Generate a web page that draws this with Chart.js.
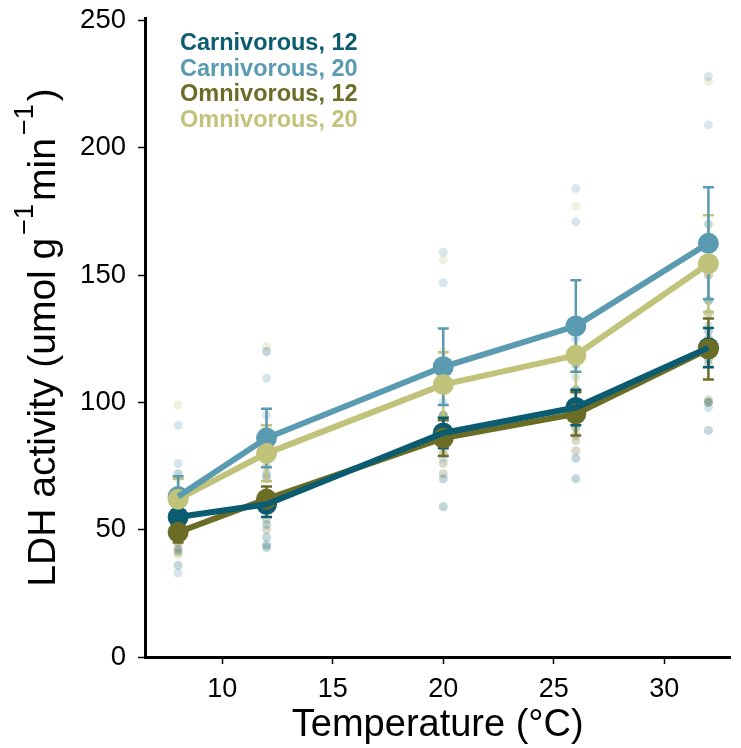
<!DOCTYPE html>
<html>
<head>
<meta charset="utf-8">
<script src="https://cdn.jsdelivr.net/npm/chart.js@4.4.1/dist/chart.umd.min.js"></script>
<style>
  html, body { margin:0; padding:0; background:#fff; }
</style>
</head>
<body>
<canvas id="c" width="741" height="748"></canvas>
<script>
/* ---------- data ---------- */
const temps = [8, 12, 20, 26, 32];
const xTicks = [10, 15, 20, 25, 30];
const yTicks = [0, 50, 100, 150, 200, 250];

const groupNames  = ["Carnivorous, 12", "Carnivorous, 20", "Omnivorous, 12", "Omnivorous, 20"];
const groupColors = ["#0b5c70", "#5b9bb2", "#6b6d27", "#c1c37a"];

const carn12Mean = [55, 60, 88, 98, 121.5];
const carn20Mean = [63, 86, 114, 130, 162.5];
const omn12Mean  = [49, 62, 86, 95.5, 121];
const omn20Mean  = [62, 80, 107, 118.5, 154.5];

const carn12Se = [4, 5, 6, 7, 7.7];
const carn20Se = [8, 11.5, 15, 18, 22];
const omn12Se  = [4, 5, 7, 8.5, 12];
const omn20Se  = [8, 11, 12.7, 14, 19];

// individual fish, one row per temperature
const carn12Raw = [[72,65,60,55,42,36],[120,60,52,47,44,43],[115,105,95,84,70,59],[130,115,105,90,78,70],[155,140,128,117,100,89]];
const carn20Raw = [[91,76,63,55,60,33],[109.5,95,88,80,72,71],[159,147,110,100,90,78],[184,171,125,110,95,95],[228,209,170,140,130,98]];
const omn12Raw  = [[60,55,50,45,43,41],[75,70,65,58,54,50],[105,95,88,80,76,72],[120,105,95,85,81,87],[150,135,125,115,100,101]];
const omn20Raw  = [[99,70,60,55,48,40],[122,90,80,72,60,56],[156,120,105,95,85,80],[177,130,115,100,90,99],[226,170,150,135,125,121]];

const means = [carn12Mean, carn20Mean, omn12Mean, omn20Mean];
const ses   = [carn12Se, carn20Se, omn12Se, omn20Se];
const raws  = [carn12Raw, carn20Raw, omn12Raw, omn20Raw];

/* ---------- helpers ---------- */
function alpha(hex, a){
  const n = parseInt(hex.slice(1), 16);
  return `rgba(${n>>16},${(n>>8)&255},${n&255},${a})`;
}
const FONT = "'Liberation Sans', Arial, Helvetica, sans-serif";

// order: higher = drawn first (underneath)
const pointOrder = [24, 23, 21, 22];   // olive point sits on teal
const lineOrder  = [1, 2, 3, 4];       // carnivorous lines over omnivorous

const datasets = [];
raws.forEach((r, g) => {
  datasets.push({
    data: temps.flatMap((t, i) => r[i].map(v => ({x:t, y:v}))),
    showLine: false,
    pointRadius: 4.5,
    pointBorderWidth: 0,
    pointBackgroundColor: alpha(groupColors[g], 0.25),
    order: 100 + g
  });
});
means.forEach((m, g) => {
  datasets.push({
    data: temps.map((t, i) => ({x:t, y:m[i]})),
    showLine: false,
    pointRadius: 10.5,
    pointBorderWidth: 0,
    pointBackgroundColor: groupColors[g],
    isMean: true,
    order: pointOrder[g]
  });
});
means.forEach((m, g) => {
  datasets.push({
    data: temps.map((t, i) => ({x:t, y:m[i]})),
    showLine: true,
    borderColor: groupColors[g],
    borderWidth: 6,
    pointRadius: 0,
    order: lineOrder[g]
  });
});

/* ---------- error bars (under mean points) ---------- */
let errDone = false;
const errorBars = {
  id: "errorBars",
  beforeDatasetsDraw(){ errDone = false; },
  beforeDatasetDraw(chart, args){
    const ds = chart.data.datasets[args.index];
    if (!ds.isMean || errDone) return;
    errDone = true;
    const xs = chart.scales.x, ys = chart.scales.y, g = chart.ctx;
    g.save();
    g.lineWidth = 2.5;
    [3, 2, 1, 0].forEach(k => {
      g.strokeStyle = groupColors[k];
      temps.forEach((t, i) => {
        const px = xs.getPixelForValue(t);
        const hi = ys.getPixelForValue(means[k][i] + ses[k][i]);
        const lo = ys.getPixelForValue(means[k][i] - ses[k][i]);
        g.beginPath();
        g.moveTo(px, hi); g.lineTo(px, lo);
        g.moveTo(px - 5.5, hi); g.lineTo(px + 5.5, hi);
        g.moveTo(px - 5.5, lo); g.lineTo(px + 5.5, lo);
        g.stroke();
      });
    });
    g.restore();
  }
};

/* ---------- text legend, top left ---------- */
const textLegend = {
  id: "textLegend",
  afterDraw(chart){
    const g = chart.ctx;
    g.save();
    g.font = `bold 23.5px ${FONT}`;
    g.textAlign = "left";
    g.textBaseline = "middle";
    groupNames.forEach((n, i) => {
      g.fillStyle = groupColors[i];
      g.fillText(n, 180, 44 + i * 25.5);
    });
    g.restore();
  }
};

/* ---------- y title with real superscripts ---------- */
const yTitle = {
  id: "yTitle",
  afterDraw(chart){
    const g = chart.ctx, a = chart.chartArea;
    const parts = [["LDH activity (umol g", 0], ["\u22121", 1], ["min", 0], ["\u22121", 1], [")", 0]];
    const big = `39px ${FONT}`, small = `27px ${FONT}`, gap = 3;
    const w = ([s, sup]) => { g.font = sup ? small : big; return g.measureText(s).width + (sup ? 2 * gap : 0); };
    const total = parts.reduce((t, p) => t + w(p), 0);
    g.save();
    g.translate(55, (a.top + a.bottom) / 2);
    g.rotate(-Math.PI / 2);
    g.fillStyle = "#000";
    g.textBaseline = "alphabetic";
    g.textAlign = "left";
    let x = -total / 2;
    parts.forEach(p => {
      const step = w(p);
      g.fillText(p[0], x + (p[1] ? gap : 0), p[1] ? -22 : 0);
      x += step;
    });
    g.restore();
  }
};

new Chart(document.getElementById("c"), {
  type: "scatter",
  data: { datasets },
  options: {
    responsive: false,
    animation: false,
    layout: { padding: { top: 18, right: 0, left: 0, bottom: 0 } },
    plugins: { legend: { display:false }, tooltip: { enabled:false } },
    scales: {
      x: {
        type: "linear",
        min: 6.5, max: 33,
        afterBuildTicks: s => { s.ticks = xTicks.map(v => ({value:v})); },
        afterFit: s => { s.height = 91; s.paddingLeft = 0; s.paddingRight = 0; },
        border: { color:"#000", width:3 },
        grid: { drawOnChartArea:false, tickLength:7, tickColor:"#000", tickWidth:1.5 },
        ticks: { color:"#000", font:{ family:FONT, size:27 }, padding:9 },
        title: { display:true, text:"Temperature (°C)", color:"#000",
                 font:{ family:FONT, size:38 }, padding:{ top:0, bottom:0 } }
      },
      y: {
        min: 0, max: 251,
        afterBuildTicks: s => { s.ticks = yTicks.map(v => ({value:v})); },
        afterFit: s => { s.width = 145; s.paddingTop = 0; s.paddingBottom = 0; },
        border: { color:"#000", width:3 },
        grid: { drawOnChartArea:false, tickLength:7, tickColor:"#000", tickWidth:1.5 },
        ticks: { color:"#000", font:{ family:FONT, size:27.5 }, padding:12 }
      }
    }
  },
  plugins: [errorBars, textLegend, yTitle]
});
</script>
</body>
</html>
